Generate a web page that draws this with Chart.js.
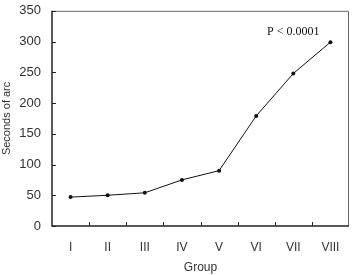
<!DOCTYPE html>
<html>
<head>
<meta charset="utf-8">
<script src="https://cdn.jsdelivr.net/npm/chart.js@4/dist/chart.umd.min.js"></script>
<style>
html, body { margin: 0; padding: 0; background: #fff; }
#wrap { width: 353px; height: 275px; }
</style>
</head>
<body>
<div id="wrap"><canvas id="Chart" width="353" height="275"></canvas></div>
<script>
const groups = ['I', 'II', 'III', 'IV', 'V', 'VI', 'VII', 'VIII'];
const seconds = [47, 50, 54, 75, 90, 179, 248, 299];
const yTicks = [0, 50, 100, 150, 200, 250, 300, 350];
const note = 'P < 0.0001';

// inward tick marks + box frame + p-value note
const frame = {
    id: 'frame',
    afterDraw(chart) {
        const c = chart.ctx, a = chart.chartArea;
        const x = chart.scales.x, y = chart.scales.y;
        c.save();
        c.strokeStyle = '#666';
        c.lineWidth = 1;
        c.beginPath();
        c.moveTo(a.left, a.top + 0.5);
        c.lineTo(a.right - 0.5, a.top + 0.5);
        c.lineTo(a.right - 0.5, a.bottom);
        c.stroke();
        c.strokeStyle = '#222';
        c.lineWidth = 1.5;
        c.beginPath();
        c.moveTo(a.left, a.top);
        c.lineTo(a.left, a.bottom);
        c.lineTo(a.right, a.bottom);
        c.stroke();
        c.lineWidth = 1;
        c.beginPath();
        yTicks.forEach(v => {
            const py = Math.round(y.getPixelForValue(v)) + 0.5;
            c.moveTo(a.left, py);
            c.lineTo(a.left + 4, py);
        });
        for (let i = 1; i < groups.length; i++) {
            const px = Math.round((x.getPixelForValue(i - 1) + x.getPixelForValue(i)) / 2) + 0.5;
            c.moveTo(px, a.bottom);
            c.lineTo(px, a.bottom - 4);
        }
        c.stroke();
        c.fillStyle = '#111';
        c.font = '12px "Liberation Serif", serif';
        c.textAlign = 'center';
        c.textBaseline = 'middle';
        c.fillText(note, x.getPixelForValue(6), y.getPixelForValue(315));
        c.restore();
    }
};

new Chart(document.getElementById('Chart'), {
    type: 'line',
    data: {
        labels: groups,
        datasets: [{
            data: seconds,
            borderColor: '#111',
            borderWidth: 1,
            backgroundColor: '#111',
            pointRadius: 2,
            pointBorderWidth: 0,
            tension: 0
        }]
    },
    options: {
        responsive: false,
        animation: false,
        layout: { padding: { top: 10, right: 4, left: 0, bottom: 0 } },
        plugins: {
            legend: { display: false },
            tooltip: { enabled: false }
        },
        scales: {
            x: {
                offset: true,
                grid: { display: false },
                border: { display: false },
                ticks: { color: '#333', font: { family: 'Liberation Sans', size: 12 }, padding: 6 },
                title: { display: true, text: 'Group', color: '#333', font: { family: 'Liberation Sans', size: 12 }, padding: { top: 2, bottom: 0 } },
                afterFit: s => { s.height = 49; }
            },
            y: {
                min: 0,
                max: 350,
                afterBuildTicks: s => { s.ticks = yTicks.map(v => ({ value: v })); },
                grid: { display: false },
                border: { display: false },
                ticks: { color: '#333', font: { family: 'Liberation Sans', size: 13 }, padding: 3 },
                title: { display: true, text: 'Seconds of arc', color: '#333', font: { family: 'Liberation Sans', size: 11 }, padding: { top: 0, bottom: 6 } },
                afterFit: s => { s.width = 52; }
            }
        }
    },
    plugins: [frame]
});
</script>
</body>
</html>
